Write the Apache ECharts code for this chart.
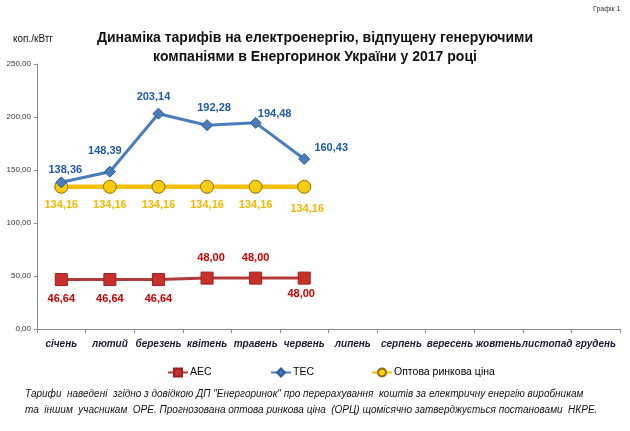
<!DOCTYPE html>
<html><head><meta charset="utf-8">
<script src="https://cdn.jsdelivr.net/npm/echarts@6/dist/echarts.min.js"></script>
<style>html,body{margin:0;padding:0;background:#fff}#c{width:630px;height:431px}</style>
</head><body><div id="c"></div>
<script>
const months = ['січень','лютий','березень','квітень','травень','червень','липень','серпень','вересень','жовтень','листопад','грудень'];
const aes = [46.64, 46.64, 46.64, 48.00, 48.00, 48.00];
const tes = [138.36, 148.39, 203.14, 192.28, 194.48, 160.43];
const orc = [134.16, 134.16, 134.16, 134.16, 134.16, 134.16];
const seriesNames = ['АЕС', 'ТЕС', 'Оптова ринкова ціна'];
const yTicks = [0, 50, 100, 150, 200, 250];

// label offsets (styling only)
const tesOff = [[4,-12],[-5,-21],[-5,-17],[7,-17],[19,-9],[27,-11]];
const orcOff = [[0,18],[0,18],[0,18],[0,18],[0,18],[3,22]];
const aesOff = [[0,19],[0,19],[0,19],[4,-20],[0,-20],[-3,16]];

const fmt = v => v.toFixed(2).replace('.', ',');
function mk(vals, offs, color){
  return vals.map((v,i)=>({value:v, label:{show:true, position:'inside', offset:offs[i], color:color, fontWeight:'bold', fontSize:11, fontFamily:'Liberation Sans', formatter:()=>fmt(v)}}));
}
const legText = {fontSize:10.5, fontFamily:'Liberation Sans', color:'#000', padding:[0,0,0,-3]};
const chart = echarts.init(document.getElementById('c'), null, {renderer:'canvas'});
chart.setOption({
  backgroundColor:'#fff',
  animation:false,
  title:{text:'Динаміка тарифів на електроенергію, відпущену генеруючими\nкомпаніями в Енергоринок України у 2017 році', left:'center', top:24,
    textStyle:{fontFamily:'Liberation Sans', fontWeight:'bold', fontSize:14, lineHeight:19, color:'#111'}},
  graphic:[
    {type:'text', left:593, top:6, style:{text:'Графік 1', font:'7px "Liberation Sans"', fill:'#333'}},
    {type:'text', left:13, top:34, style:{text:'коп./кВтг', font:'10px "Liberation Sans"', fill:'#111'}},
    {type:'text', left:25, top:386, style:{text:'Тарифи  наведені  згідно з довідкою ДП "Енергоринок" про перерахування  коштів за електричну енергію виробникам\nта  іншим  учасникам  ОРЕ. Прогнозована оптова ринкова ціна  (ОРЦ) щомісячно затверджується постановами  НКРЕ.', font:'italic 10px "Liberation Sans"', fill:'#111', lineHeight:16}}
  ],
  legend:[
    {data:[seriesNames[0]], left:162, top:362, itemWidth:20, itemHeight:10, textStyle:legText},
    {data:[seriesNames[1]], left:265, top:362, itemWidth:20, itemHeight:10, textStyle:legText},
    {data:[seriesNames[2]], left:366, top:362, itemWidth:20, itemHeight:10, textStyle:legText}
  ],
  grid:{left:37, right:10, top:64, bottom:102},
  xAxis:{type:'category', data:months, boundaryGap:true,
    axisLine:{lineStyle:{color:'#888'}}, axisTick:{show:true, length:4, lineStyle:{color:'#888'}},
    axisLabel:{interval:0, margin:10, fontSize:10, fontStyle:'italic', fontWeight:'bold', fontFamily:'Liberation Sans', color:'#1a1a33'}},
  yAxis:{type:'value', min:yTicks[0], max:yTicks[yTicks.length-1], interval:50,
    axisLine:{show:true, lineStyle:{color:'#888'}}, axisTick:{show:true, length:3, lineStyle:{color:'#888'}},
    splitLine:{show:false},
    axisLabel:{margin:6, fontSize:8, fontFamily:'Liberation Sans', color:'#333', formatter:v=>fmt(v)}},
  series:[
    {name:seriesNames[0], type:'line', data:mk(aes, aesOff, '#cc0000'), symbol:'rect', symbolSize:12, z:3,
      lineStyle:{color:'#b23a3a', width:3}, itemStyle:{color:'#c8302c', borderColor:'#9a1f1f', borderWidth:1}},
    {name:seriesNames[1], type:'line', data:mk(tes, tesOff, '#1f5aa6'), symbol:'diamond', symbolSize:11, z:3,
      lineStyle:{color:'#4a7ebb', width:3}, itemStyle:{color:'#4a7ebb', borderColor:'#2c5a95', borderWidth:1}},
    {name:seriesNames[2], type:'line', data:mk(orc, orcOff, '#f0b800'), symbol:'circle', symbolSize:13, z:2,
      lineStyle:{color:'#f5c000', width:4.5}, itemStyle:{color:'#f8cc10', borderColor:'#8a6c00', borderWidth:1}}
  ]
});
</script></body></html>
